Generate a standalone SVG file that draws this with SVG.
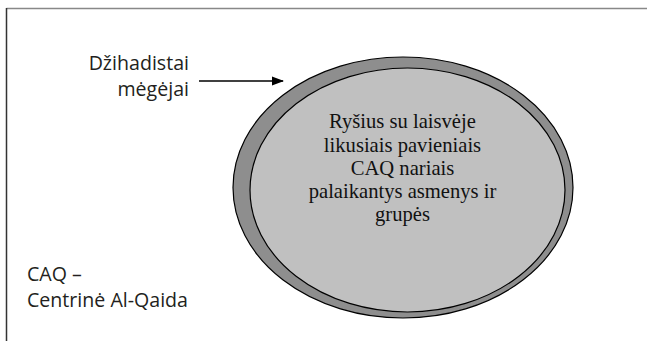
<svg xmlns="http://www.w3.org/2000/svg" width="647" height="341" viewBox="0 0 647 341">
<defs>
<marker id="ah" markerWidth="12" markerHeight="10" refX="11" refY="5" orient="auto" markerUnits="userSpaceOnUse">
<path d="M0,0.5 L12,5 L0,9.5 Z" fill="#000"/>
</marker>
</defs>
<style>
.lbl{font-family:"Open Sans","DejaVu Sans",sans-serif;font-size:19.6px;fill:#231f20}
.inn{font-family:"Liberation Serif","Times New Roman",serif;font-size:20.6px;fill:#111;text-anchor:middle}
</style>
<rect width="647" height="341" fill="#fff"/>
<line x1="6.5" y1="8.5" x2="647" y2="8.5" stroke="#888" stroke-width="1.5"/>
<line x1="6.5" y1="8" x2="6.5" y2="341" stroke="#333" stroke-width="1.5"/>
<g id="outer">
<ellipse cx="403" cy="187.5" rx="170" ry="130.5" fill="#8e8e8e" stroke="#000" stroke-width="1.2"/>
</g>
<g id="inner">
<ellipse cx="407.5" cy="190" rx="157.5" ry="122" fill="#c0c0c0" stroke="#000" stroke-width="1.2"/>
<text class="inn" x="402.5" y="128">Ryšius su laisvėje</text>
<text class="inn" x="402.5" y="152">likusiais pavieniais</text>
<text class="inn" x="402.5" y="175">CAQ nariais</text>
<text class="inn" x="402.5" y="198">palaikantys asmenys ir</text>
<text class="inn" x="402.5" y="221">grupės</text>
</g>
<g id="label-megejai">
<text class="lbl" x="189" y="70" text-anchor="end">Džihadistai</text>
<text class="lbl" x="189" y="96" text-anchor="end">mėgėjai</text>
</g>
<g id="label-caq">
<text class="lbl" x="27" y="281">CAQ –</text>
<text class="lbl" x="27" y="307">Centrinė Al-Qaida</text>
</g>
<g id="connectors">
<line x1="199" y1="81" x2="283" y2="81" stroke="#000" stroke-width="1.5" marker-end="url(#ah)"/>
</g>
</svg>
